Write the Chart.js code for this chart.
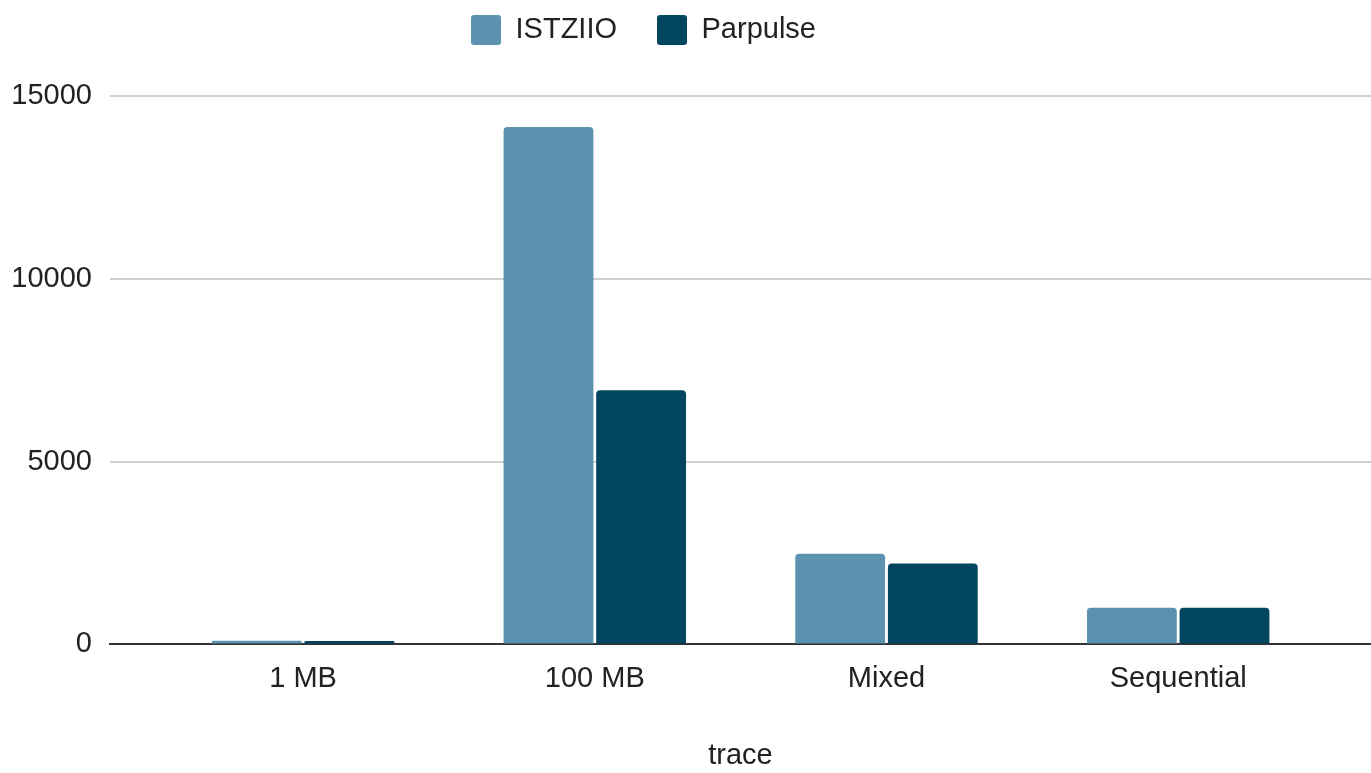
<!DOCTYPE html>
<html>
<head>
<meta charset="utf-8">
<script src="https://cdn.jsdelivr.net/npm/chart.js@4"></script>
<style>
  html, body { margin: 0; padding: 0; background: #fff; }
  #wrap { width: 1371px; height: 773px; position: relative; }
</style>
</head>
<body>
<div id="wrap"><canvas id="myChart"></canvas></div>
<script>
// data
const traces = ["1 MB", "100 MB", "Mixed", "Sequential"];
const istziio = [100, 14150, 2480, 1000];
const parpulse = [95, 6950, 2210, 1000];
const yTicks = [0, 5000, 10000, 15000];

const font = "'Liberation Sans', Arial, sans-serif";

function points(vals) {
  return vals.map((v, i) => ({ x: i, y: v }));
}

// legend: keep the plot top at 96px and nudge the row up/left
const legendSpot = {
  id: "legendSpot",
  beforeInit(chart) {
    const legend = chart.legend;
    const fit = legend.fit;
    legend.fit = function () {
      fit.call(this);
      this.height = 96;
    };
  },
  afterLayout(chart) {
    const l = chart.legend;
    l.top -= 25;
    l.left -= 42;
    l.right -= 42;
  }
};

new Chart("myChart", {
  type: "bar",
  data: {
    datasets: [{
      label: "ISTZIIO",
      data: points(istziio),
      backgroundColor: "#5b92b0",
      borderRadius: 4,
      barPercentage: 0.97,
      categoryPercentage: 0.635
    }, {
      label: "Parpulse",
      data: points(parpulse),
      backgroundColor: "#01455f",
      borderRadius: 4,
      barPercentage: 0.97,
      categoryPercentage: 0.635
    }]
  },
  plugins: [legendSpot],
  options: {
    responsive: true,
    maintainAspectRatio: false,
    animation: false,
    layout: { padding: 0 },
    plugins: {
      tooltip: { enabled: false },
      legend: {
        position: "top",
        labels: {
          font: { family: font, size: 29 },
          color: "#222",
          boxWidth: 30,
          boxHeight: 30,
          useBorderRadius: true,
          borderRadius: 3,
          padding: 40
        }
      }
    },
    scales: {
      x: {
        type: "linear",
        offset: false,
        min: -0.662,
        max: 3.661,
        grid: { display: false },
        border: { display: true, color: "#333", width: 2 },
        ticks: {
          stepSize: 1,
          includeBounds: false,
          padding: 9,
          color: "#222",
          font: { family: font, size: 29 },
          callback: v => traces[v] ?? ""
        },
        title: {
          display: true,
          text: "trace",
          color: "#222",
          font: { family: font, size: 29 },
          padding: { top: 33, bottom: 0 }
        }
      },
      y: {
        min: 0,
        max: 15000,
        afterBuildTicks: s => { s.ticks = yTicks.map(v => ({ value: v })); },
        afterFit: s => { s.width = 110; },
        border: { display: false },
        grid: {
          drawTicks: false,
          lineWidth: 2,
          color: c => c.tick.value === 0 ? "#333" : "#cfcfcf"
        },
        ticks: {
          padding: 18,
          color: "#222",
          font: { family: font, size: 29 },
          callback: v => String(v)
        }
      }
    }
  }
});
</script>
</body>
</html>
